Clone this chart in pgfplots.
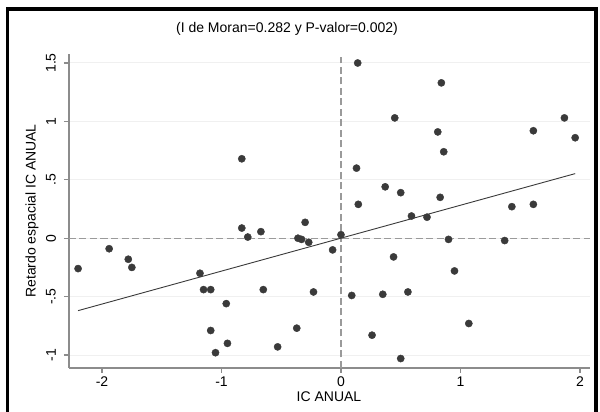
\documentclass[border=0pt]{standalone}
\usepackage{pgfplots}
\pgfplotsset{compat=1.18}
\usepackage{fontspec}
\setmainfont{Liberation Sans}
\definecolor{dots}{HTML}{3A3A3A}
\definecolor{axgray}{HTML}{8C8C8C}
\definecolor{refgray}{HTML}{9A9A9A}
\definecolor{gridgray}{HTML}{F0F0F0}
\begin{document}
\begin{tikzpicture}[font=\fontsize{14}{16}\selectfont]
\useasboundingbox (0,0) rectangle (600pt,412pt);
\fill[white] (0,0) rectangle (600pt,412pt);
% marco negro
\draw[line width=3.5pt] (7.5pt,-5pt) -- (7.5pt,403pt) -- (596pt,403pt) -- (596pt,-5pt);
% titulo
\node[anchor=center] at (287pt,383pt) {(I de Moran=0.282 y P-valor=0.002)};
\begin{axis}[
  at={(69pt,44pt)}, anchor=south west,
  scale only axis, width=521pt, height=314pt,
  xmin=-2.276, xmax=2.084,
  ymin=-1.111, ymax=1.577,
  axis x line*=bottom, axis y line*=left,
  axis line style={axgray, line width=1.3pt, -},
  tick align=outside,
  major tick length=5pt,
  tick style={axgray, line width=1.1pt},
  xtick={-2,-1,0,1,2},
  xticklabels={-2,-1,0,1,2},
  ytick={-1,-0.5,0,0.5,1,1.5},
  yticklabel style={text opacity=0},
  ymajorgrids,
  major grid style={gridgray, line width=1pt},
  xlabel={IC ANUAL},
  xlabel style={at={(axis description cs:0.499,-0.0914)}, anchor=center},
  ylabel={Retardo espacial IC ANUAL},
  ylabel style={at={(axis description cs:-0.071,0.5)}, anchor=center},
  clip=false,
]
% etiquetas del eje y (giradas)
\node[rotate=90, anchor=center] at (axis description cs:-0.0346,0.9713) {1.5};
\node[rotate=90, anchor=center] at (axis description cs:-0.0346,0.7854) {1};
\node[rotate=90, anchor=center] at (axis description cs:-0.0346,0.5994) {.5};
\node[rotate=90, anchor=center] at (axis description cs:-0.0346,0.4134) {0};
\node[rotate=90, anchor=center] at (axis description cs:-0.0346,0.2274) {-.5};
\node[rotate=90, anchor=center] at (axis description cs:-0.0346,0.0414) {-1};
% lineas de referencia
\addplot[refgray, line width=1.4pt, dash pattern=on 7pt off 3.5pt] coordinates {(-2.276,0) (2.084,0)};
\addplot[refgray, line width=1.4pt, dash pattern=on 7pt off 3.5pt] coordinates {(0,-1.111) (0,1.555)};
% recta de ajuste
\addplot[dots, line width=0.9pt] coordinates {(-2.2,-0.620) (1.96,0.553)};
% puntos
\addplot[only marks, mark=*, mark size=3.6pt, dots, mark options={draw=dots, fill=dots}] coordinates {
(-2.20,-0.26) (-1.94,-0.09) (-1.78,-0.18) (-1.75,-0.25) (-1.18,-0.30)
(-1.15,-0.44) (-1.09,-0.44) (-0.96,-0.56) (-1.09,-0.79) (-0.95,-0.90)
(-1.05,-0.98) (-0.83,0.68) (-0.83,0.087) (-0.78,0.01) (-0.67,0.056)
(-0.65,-0.44) (-0.53,-0.93) (-0.37,-0.77) (-0.36,0.0) (-0.33,-0.01)
(-0.30,0.136) (-0.27,-0.035) (-0.23,-0.46) (-0.07,-0.10) (0.0,0.03)
(0.09,-0.49) (0.13,0.60) (0.14,1.50) (0.145,0.29) (0.26,-0.83)
(0.35,-0.48) (0.37,0.44) (0.44,-0.16) (0.45,1.03) (0.50,0.39)
(0.50,-1.03) (0.56,-0.46) (0.59,0.19) (0.72,0.18) (0.81,0.91)
(0.83,0.35) (0.84,1.33) (0.86,0.74) (0.90,-0.01) (0.95,-0.28)
(1.07,-0.73) (1.37,-0.02) (1.43,0.27) (1.61,0.29) (1.61,0.92)
(1.87,1.03) (1.96,0.86)
};
\end{axis}
\end{tikzpicture}
\end{document}
